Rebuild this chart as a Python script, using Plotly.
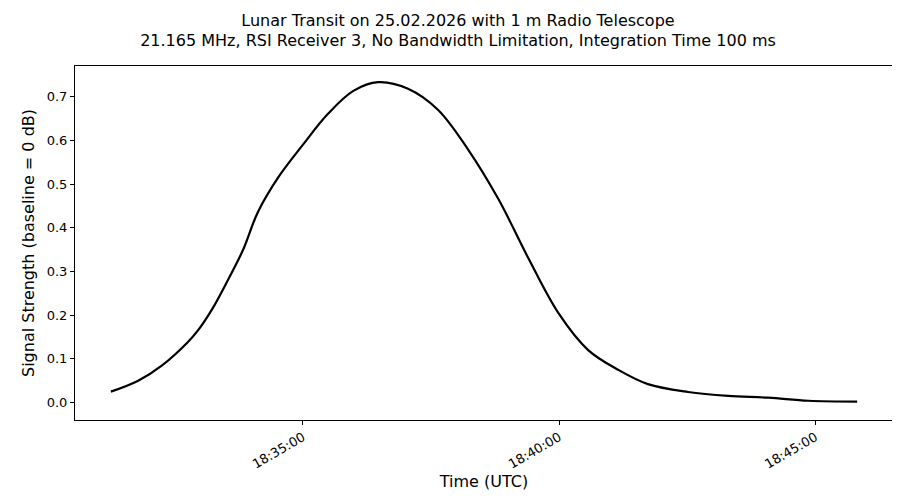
import plotly.graph_objects as go

# values
times = ["18:31:15", "18:31:47", "18:32:15", "18:32:45", "18:32:57", "18:33:14",
         "18:33:32", "18:33:50", "18:34:07", "18:34:31", "18:35:00", "18:35:29",
         "18:35:59", "18:36:28", "18:37:03", "18:37:38", "18:38:13", "18:38:49",
         "18:39:24", "18:39:59", "18:40:34", "18:41:09", "18:41:44", "18:42:31",
         "18:43:18", "18:44:05", "18:44:52", "18:45:49"]
signal = [0.025, 0.05, 0.085, 0.138, 0.165, 0.215,
          0.28, 0.35, 0.435, 0.515, 0.59, 0.66,
          0.713, 0.733, 0.718, 0.67, 0.58, 0.465,
          0.33, 0.205, 0.12, 0.075, 0.042, 0.024,
          0.015, 0.011, 0.004, 0.002]
x = ["2026-02-25 " + t for t in times]

fig = go.Figure()
fig.add_trace(go.Scatter(x=x, y=signal, mode="lines", line=dict(color="black", width=2.2, shape="spline")))

axis = dict(showgrid=False, zeroline=False, showline=True, linecolor="black", mirror=True,
            ticks="outside", ticklen=4, tickcolor="black", automargin=False,
            tickfont=dict(size=13))
fig.update_xaxes(**axis, title=dict(text="Time (UTC)", standoff=0), tickformat="%H:%M:%S", tickangle=-30,
                 tickvals=["2026-02-25 18:35:00", "2026-02-25 18:40:00", "2026-02-25 18:45:00"],
                 range=["2026-02-25 18:30:33", "2026-02-25 18:46:31"])
fig.update_yaxes(**axis, title=dict(text="Signal Strength (baseline = 0 dB)", standoff=8),
                 range=[-0.04, 0.77], dtick=0.1, tickformat=".1f")
fig.update_layout(
    width=900, height=500, template="none", plot_bgcolor="white", showlegend=False,
    font=dict(family="DejaVu Sans", size=13, color="black"),
    title=dict(text="Lunar Transit on 25.02.2026 with 1 m Radio Telescope<br>21.165 MHz, RSI Receiver 3, No Bandwidth Limitation, Integration Time 100 ms",
               x=0.5, xanchor="center", y=0.965, font=dict(size=16), automargin=False),
    margin=dict(l=67, r=15, t=58, b=88),
)
fig.write_html("out.html")
